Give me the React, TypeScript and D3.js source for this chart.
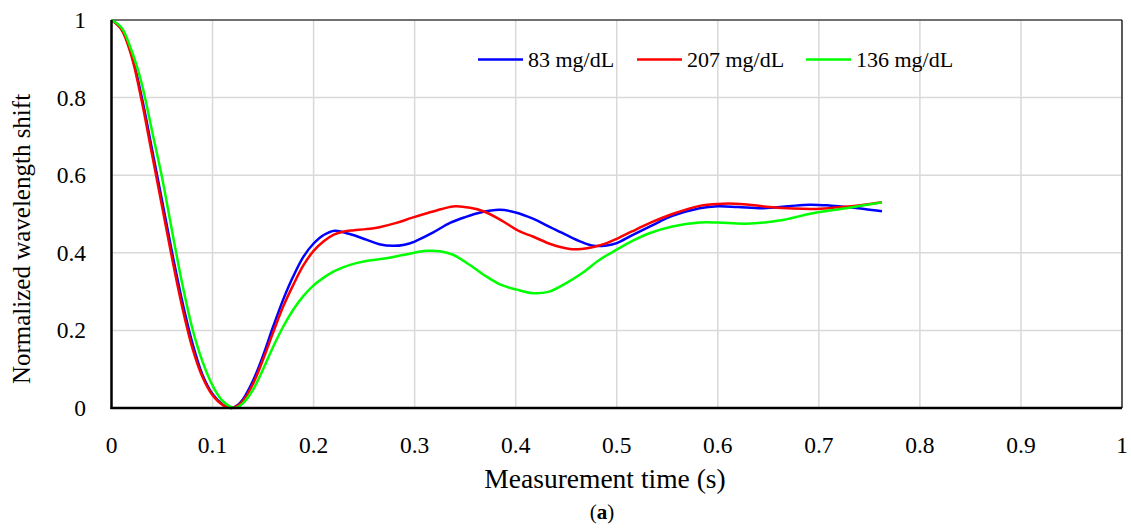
import React from "react";
import * as d3 from "d3";

const xTicks = [0, 0.1, 0.2, 0.3, 0.4, 0.5, 0.6, 0.7, 0.8, 0.9, 1];
const yTicks = [0, 0.2, 0.4, 0.6, 0.8, 1];

const seriesNames = ["83 mg/dL", "207 mg/dL", "136 mg/dL"];
const seriesColors = ["#0000ff", "#ff0000", "#00ff00"];

const blue83: [number, number][] = [
  [0, 1], [0.01, 0.977], [0.02, 0.91], [0.03, 0.8], [0.04, 0.668], [0.05, 0.535], [0.06, 0.4],
  [0.07, 0.275], [0.08, 0.168], [0.09, 0.086], [0.1, 0.036], [0.11, 0.009], [0.1185, 0],
  [0.125, 0.008], [0.13, 0.022], [0.14, 0.07], [0.15, 0.135], [0.16, 0.21], [0.17, 0.28], [0.18, 0.34],
  [0.19, 0.39], [0.2, 0.424], [0.21, 0.446], [0.221, 0.457], [0.235, 0.449], [0.252, 0.434],
  [0.265, 0.422], [0.279, 0.418], [0.29, 0.421], [0.3, 0.429], [0.318, 0.452], [0.335, 0.477],
  [0.35, 0.492], [0.365, 0.504], [0.384, 0.511], [0.4, 0.504], [0.417, 0.488], [0.435, 0.465],
  [0.45, 0.446], [0.465, 0.428], [0.477, 0.418], [0.49, 0.419], [0.5, 0.425], [0.515, 0.445],
  [0.533, 0.468], [0.555, 0.495], [0.582, 0.515], [0.6, 0.52], [0.62, 0.518], [0.645, 0.515],
  [0.67, 0.52], [0.691, 0.524], [0.71, 0.522], [0.727, 0.518], [0.745, 0.513], [0.7625, 0.507],
];

const red207: [number, number][] = [
  [0, 1], [0.01, 0.975], [0.02, 0.905], [0.03, 0.79], [0.04, 0.655], [0.05, 0.52], [0.06, 0.385],
  [0.07, 0.26], [0.08, 0.155], [0.09, 0.08], [0.1, 0.033], [0.11, 0.008], [0.119, 0],
  [0.125, 0.006], [0.13, 0.018], [0.14, 0.062], [0.15, 0.125], [0.16, 0.195], [0.17, 0.262],
  [0.18, 0.318], [0.19, 0.368], [0.2, 0.405], [0.21, 0.43], [0.22, 0.447], [0.23, 0.455],
  [0.24, 0.458], [0.252, 0.461], [0.265, 0.466], [0.282, 0.477], [0.297, 0.49], [0.312, 0.502],
  [0.327, 0.513], [0.34, 0.52], [0.355, 0.516], [0.368, 0.507], [0.385, 0.485], [0.404, 0.455],
  [0.417, 0.442], [0.435, 0.422], [0.4535, 0.41], [0.465, 0.41], [0.477, 0.415], [0.49, 0.425],
  [0.5, 0.436], [0.515, 0.455], [0.533, 0.477], [0.555, 0.5], [0.582, 0.521], [0.6, 0.526],
  [0.622, 0.526], [0.651, 0.518], [0.675, 0.514], [0.694, 0.513], [0.71, 0.515], [0.727, 0.519],
  [0.745, 0.524], [0.7625, 0.53],
];

const green136: [number, number][] = [
  [0, 1], [0.01, 0.98], [0.02, 0.92], [0.03, 0.835], [0.04, 0.715], [0.05, 0.594], [0.06, 0.455],
  [0.07, 0.32], [0.08, 0.205], [0.09, 0.12], [0.1, 0.058], [0.11, 0.018], [0.122, 0],
  [0.13, 0.012], [0.14, 0.047], [0.15, 0.1], [0.16, 0.158], [0.17, 0.21], [0.18, 0.254],
  [0.19, 0.289], [0.2, 0.316], [0.21, 0.336], [0.22, 0.352], [0.236, 0.369], [0.252, 0.379],
  [0.272, 0.386], [0.29, 0.395], [0.312, 0.405], [0.325, 0.404], [0.338, 0.395], [0.355, 0.368],
  [0.371, 0.339], [0.385, 0.318], [0.401, 0.305], [0.417, 0.296], [0.433, 0.3], [0.45, 0.322],
  [0.467, 0.35], [0.483, 0.382], [0.5, 0.408], [0.515, 0.43], [0.533, 0.451], [0.555, 0.468],
  [0.582, 0.478], [0.6, 0.478], [0.628, 0.475], [0.661, 0.483], [0.694, 0.502], [0.727, 0.515],
  [0.7625, 0.53],
];

const W = 1131;
const H = 532;
const margin = { left: 111.5, right: 9, top: 20, bottom: 124 };
const FONT = "'Liberation Serif', 'Times New Roman', serif";

export default function App() {
  const x = d3.scaleLinear().domain([0, 1]).range([margin.left, W - margin.right]);
  const y = d3.scaleLinear().domain([0, 1]).range([H - margin.bottom, margin.top]);
  const line = d3
    .line<[number, number]>()
    .x((d) => x(d[0]))
    .y((d) => y(d[1]))
    .curve(d3.curveCatmullRom.alpha(0.5));

  const series = [blue83, red207, green136];
  const legendX = [478, 637, 806];
  const legendY = 59.5;

  return (
    <svg
      width={W}
      height={H}
      style={{ position: "absolute", left: 0, top: 0, background: "#fff" }}
      fontFamily={FONT}
    >
      {xTicks.map((t) => (
        <line key={"gx" + t} x1={x(t)} x2={x(t)} y1={y(0)} y2={y(1)} stroke="#d9d9d9" strokeWidth={1.5} />
      ))}
      {yTicks.map((t) => (
        <line key={"gy" + t} x1={x(0)} x2={x(1)} y1={y(t)} y2={y(t)} stroke="#d9d9d9" strokeWidth={1.5} />
      ))}
      <line x1={x(0)} x2={x(1)} y1={y(1)} y2={y(1)} stroke="#000" strokeWidth={1.2} />
      <line x1={x(1)} x2={x(1)} y1={y(0)} y2={y(1)} stroke="#000" strokeWidth={1.2} />

      {series.map((s, i) => (
        <path key={"s" + i} d={line(s) || ""} fill="none" stroke={seriesColors[i]} strokeWidth={2.5} strokeLinejoin="round" />
      ))}

      <line x1={x(0)} x2={x(0)} y1={y(0) + 1} y2={y(1)} stroke="#000" strokeWidth={2.5} />
      <line x1={x(0) - 1} x2={x(1)} y1={y(0)} y2={y(0)} stroke="#000" strokeWidth={2.5} />

      {xTicks.map((t) => (
        <text key={"xl" + t} x={x(t)} y={y(0) + 45} textAnchor="middle" fontSize={23.5} fill="#000">
          {String(t)}
        </text>
      ))}
      {yTicks.map((t) => (
        <text key={"yl" + t} x={86} y={y(t) + 8} textAnchor="end" fontSize={23.5} fill="#000">
          {String(t)}
        </text>
      ))}

      <text x={605} y={488} textAnchor="middle" fontSize={27.5} fill="#000">
        Measurement time (s)
      </text>
      <text
        transform={`translate(30, 239) rotate(-90)`}
        textAnchor="middle"
        fontSize={25}
        fill="#000"
      >
        Normalized wavelength shift
      </text>
      <text x={602} y={519} textAnchor="middle" fontSize={21} fill="#000">
        (<tspan fontWeight="bold">a</tspan>)
      </text>

      {seriesNames.map((n, i) => (
        <g key={"lg" + i}>
          <line x1={legendX[i]} x2={legendX[i] + 45} y1={legendY} y2={legendY} stroke={seriesColors[i]} strokeWidth={2.5} />
          <text x={legendX[i] + 50} y={legendY + 7.5} fontSize={22} fill="#000">
            {n}
          </text>
        </g>
      ))}
    </svg>
  );
}
